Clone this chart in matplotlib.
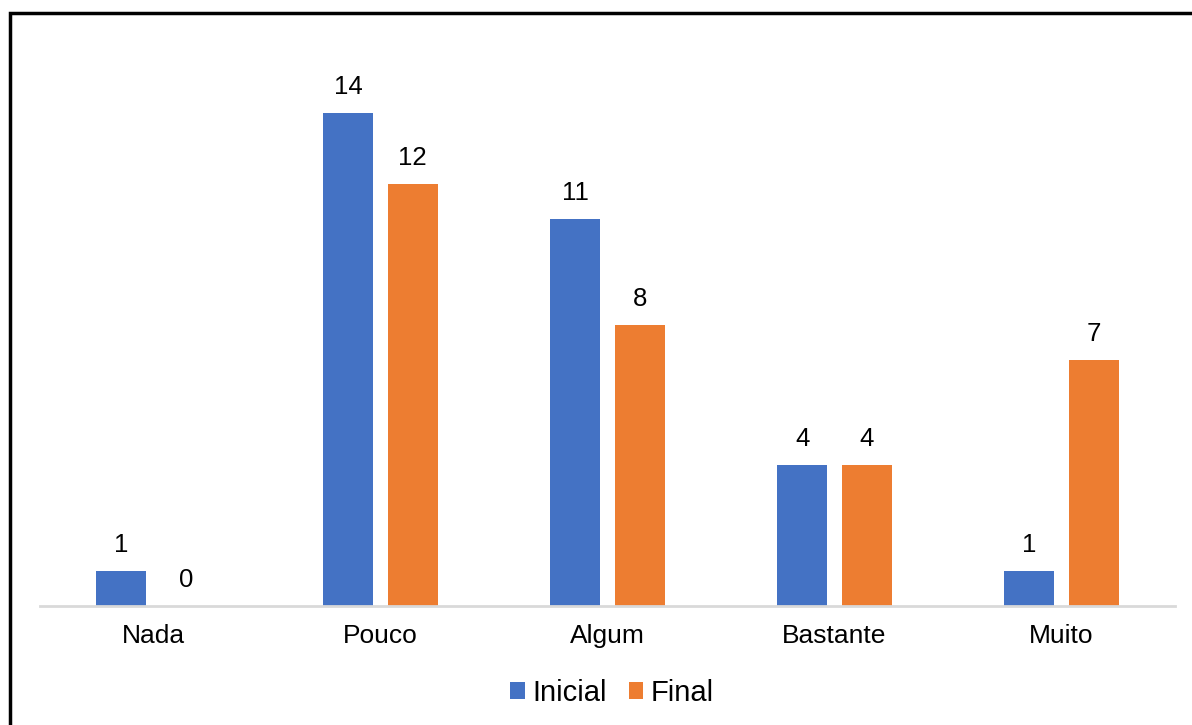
import numpy as np
import matplotlib.pyplot as plt
from matplotlib.patches import Rectangle

plt.rcParams['font.family'] = ['Liberation Sans', 'DejaVu Sans']

categorias = ['Nada', 'Pouco', 'Algum', 'Bastante', 'Muito']
inicial = [1, 14, 11, 4, 1]
final = [0, 12, 8, 4, 7]

azul = '#4472C4'
laranja = '#ED7D31'

W, H = 1192, 725
fig = plt.figure(figsize=(W / 100, H / 100), dpi=100)

# moldura (só os lados esquerdo e superior ficam visíveis)
fig.patches.append(Rectangle((10 / W, -0.1), 1.2, (H - 13) / H + 0.1,
                             transform=fig.transFigure, fill=False,
                             edgecolor='black', linewidth=2.5))

ax = fig.add_axes([40 / W, (H - 606) / H, 1135 / W, 563 / H])
x = np.arange(len(categorias))
largura = 0.222
desloc = 0.142

b1 = ax.bar(x - desloc, inicial, largura, color=azul, label='Inicial')
b2 = ax.bar(x + desloc, final, largura, color=laranja, label='Final')
for barras in (b1, b2):
    ax.bar_label(barras, padding=10, fontsize=18.5)

ax.set_xlim(-0.5, len(categorias) - 0.5)
ax.set_ylim(0, 16)
ax.set_yticks([])
ax.set_xticks(x, categorias, fontsize=19)
ax.tick_params(axis='x', length=0, pad=13)
for lado in ('top', 'right', 'left'):
    ax.spines[lado].set_visible(False)
ax.spines['bottom'].set_color('#D9D9D9')
ax.spines['bottom'].set_linewidth(2)

fig.legend(handles=[b1, b2], loc='center', bbox_to_anchor=(612 / W, 1 - 693 / H),
           ncol=2, frameon=False, fontsize=21, handlelength=0.5,
           handleheight=0.5, handletextpad=0.25, columnspacing=0.75)

fig.savefig('out.png', dpi=100)
